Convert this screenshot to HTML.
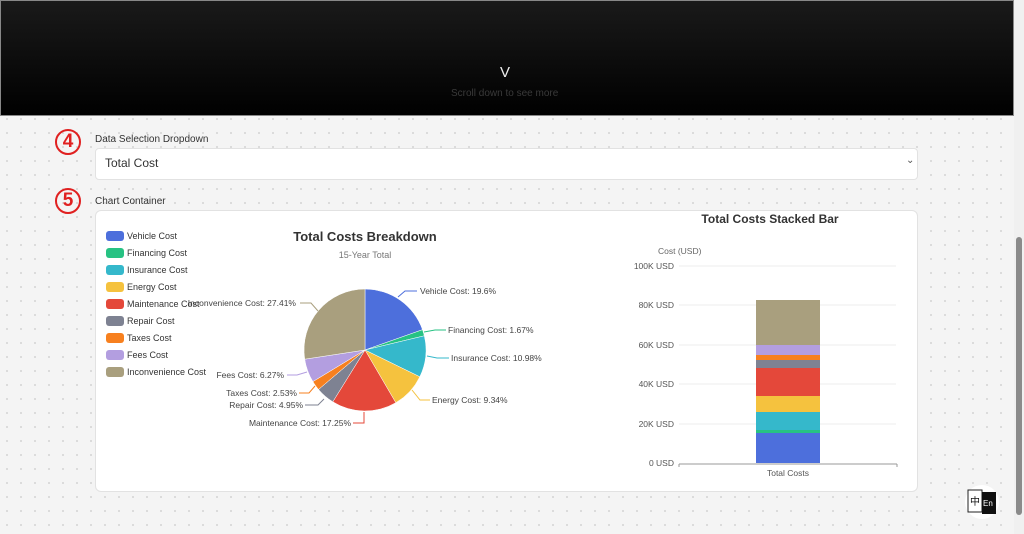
<!DOCTYPE html>
<html><head><meta charset="utf-8"><style>
body{margin:0;width:1024px;height:534px;overflow:hidden;font-family:"Liberation Sans","Noto Sans CJK SC",sans-serif;background:#f4f4f4;background-image:radial-gradient(#d6d6d6 0.8px,transparent 1.2px);background-size:14px 14px;position:relative}
.hdr{position:absolute;left:0;top:0;width:1014px;height:116px;background:linear-gradient(#1a1a1a,#000);box-shadow:0 0 0 1px #888 inset}
.abs{position:absolute}
.num{position:absolute;width:22px;height:22px;border:2px solid #e02020;border-radius:50%;color:#e02020;font-weight:bold;font-size:19px;line-height:22px;text-align:center}
</style></head><body>
<div class="hdr"></div>
<div class="abs" style="left:500px;top:64px;color:#eee;font-size:15px">V</div>
<div class="abs" style="left:451px;top:88px;color:#3a3a3a;font-size:10px">Scroll down to see more</div>
<div class="abs" style="left:1014px;top:0;width:10px;height:534px;background:#f0f0f0"></div>
<div class="abs" style="left:1016px;top:237px;width:6px;height:278px;background:#8a8a8a;border-radius:3px"></div>
<div class="num" style="left:55px;top:129px">4</div>
<div class="abs" style="left:95px;top:134px;font-size:10px;color:#333">Data Selection Dropdown</div>
<div class="abs" style="left:95px;top:148px;width:821px;height:30px;background:#fff;border:1px solid #e2e2e2;border-radius:4px"></div>
<div class="abs" style="left:105px;top:156px;font-size:12px;color:#333">Total Cost</div>
<div class="abs" style="left:906px;top:155px;font-size:10px;color:#555">⌄</div>
<div class="num" style="left:55px;top:188px">5</div>
<div class="abs" style="left:95px;top:196px;font-size:10px;color:#333">Chart Container</div>
<div class="abs" style="left:95px;top:210px;width:821px;height:280px;background:#fff;border:1px solid #e2e2e2;border-radius:6px"></div>
<svg class="abs" style="left:0;top:0" width="1024" height="534" font-family="Liberation Sans, sans-serif">
<g font-size="9" fill="#333">
<rect x="106" y="231" width="18" height="10" rx="3" fill="#4d6fdc"/><text x="127" y="239">Vehicle Cost</text>
<rect x="106" y="248" width="18" height="10" rx="3" fill="#27c283"/><text x="127" y="256">Financing Cost</text>
<rect x="106" y="265" width="18" height="10" rx="3" fill="#35b8cb"/><text x="127" y="273">Insurance Cost</text>
<rect x="106" y="282" width="18" height="10" rx="3" fill="#f5c23e"/><text x="127" y="290">Energy Cost</text>
<rect x="106" y="299" width="18" height="10" rx="3" fill="#e4483a"/><text x="127" y="307">Maintenance Cost</text>
<rect x="106" y="316" width="18" height="10" rx="3" fill="#7e8292"/><text x="127" y="324">Repair Cost</text>
<rect x="106" y="333" width="18" height="10" rx="3" fill="#f7801f"/><text x="127" y="341">Taxes Cost</text>
<rect x="106" y="350" width="18" height="10" rx="3" fill="#b39ee0"/><text x="127" y="358">Fees Cost</text>
<rect x="106" y="367" width="18" height="10" rx="3" fill="#a99f7e"/><text x="127" y="375">Inconvenience Cost</text>
</g>
<text x="365" y="241" font-size="13" font-weight="bold" fill="#333" text-anchor="middle">Total Costs Breakdown</text>
<text x="365" y="258" font-size="9" fill="#777" text-anchor="middle">15-Year Total</text>
<g stroke="#fff" stroke-width="0.5">
<path d="M365,350L365,289A61,61 0 0 1 422.5,329.7Z" fill="#4d6fdc"/>
<path d="M365,350L422.5,329.7A61,61 0 0 1 424.3,335.8Z" fill="#27c283"/>
<path d="M365,350L424.3,335.8A61,61 0 0 1 419.8,376.8Z" fill="#35b8cb"/>
<path d="M365,350L419.8,376.8A61,61 0 0 1 395.8,402.7Z" fill="#f5c23e"/>
<path d="M365,350L395.8,402.7A61,61 0 0 1 332.8,401.8Z" fill="#e4483a"/>
<path d="M365,350L332.8,401.8A61,61 0 0 1 318.5,389.5Z" fill="#7e8292"/>
<path d="M365,350L318.5,389.5A61,61 0 0 1 312.9,381.6Z" fill="#f7801f"/>
<path d="M365,350L312.9,381.6A61,61 0 0 1 304.7,359.2Z" fill="#b39ee0"/>
<path d="M365,350L304.7,359.2A61,61 0 0 1 365,289Z" fill="#a99f7e"/>
</g>
<g fill="none" stroke-width="1">
<polyline points="398,297 405,291 417,291" stroke="#4d6fdc"/>
<polyline points="424,332 435,330 446,330" stroke="#27c283"/>
<polyline points="427,356 437,358 449,358" stroke="#35b8cb"/>
<polyline points="412,390 420,400 430,400" stroke="#f5c23e"/>
<polyline points="364,412 364,423 353,423" stroke="#e4483a"/>
<polyline points="324,399 318,405 305,405" stroke="#7e8292"/>
<polyline points="315,386 309,393 299,393" stroke="#f7801f"/>
<polyline points="307,372 297,375 287,375" stroke="#b39ee0"/>
<polyline points="318,311 311,303 300,303" stroke="#a99f7e"/>
</g>
<g font-size="8.5" fill="#444">
<text x="420" y="294">Vehicle Cost: 19.6%</text>
<text x="448" y="333">Financing Cost: 1.67%</text>
<text x="451" y="361">Insurance Cost: 10.98%</text>
<text x="432" y="403">Energy Cost: 9.34%</text>
<text x="351" y="426" text-anchor="end">Maintenance Cost: 17.25%</text>
<text x="303" y="408" text-anchor="end">Repair Cost: 4.95%</text>
<text x="297" y="396" text-anchor="end">Taxes Cost: 2.53%</text>
<text x="284" y="378" text-anchor="end">Fees Cost: 6.27%</text>
<text x="296" y="306" text-anchor="end">Inconvenience Cost: 27.41%</text>
</g>
<text x="770" y="223" font-size="12" font-weight="bold" fill="#333" text-anchor="middle">Total Costs Stacked Bar</text>
<text x="658" y="254" font-size="8.5" fill="#666">Cost (USD)</text>
<g stroke="#eee" stroke-width="1">
<line x1="679" y1="266" x2="896" y2="266"/><line x1="679" y1="305" x2="896" y2="305"/>
<line x1="679" y1="345" x2="896" y2="345"/><line x1="679" y1="384" x2="896" y2="384"/>
<line x1="679" y1="424" x2="896" y2="424"/>
</g>
<g font-size="8.5" fill="#555" text-anchor="end">
<text x="674" y="269">100K USD</text><text x="674" y="308">80K USD</text>
<text x="674" y="348">60K USD</text><text x="674" y="387">40K USD</text>
<text x="674" y="427">20K USD</text><text x="674" y="466">0  USD</text>
</g>
<rect x="756" y="433" width="64" height="30" fill="#4d6fdc"/>
<rect x="756" y="430" width="64" height="3" fill="#27c283"/>
<rect x="756" y="412" width="64" height="18" fill="#35b8cb"/>
<rect x="756" y="396" width="64" height="16" fill="#f5c23e"/>
<rect x="756" y="368" width="64" height="28" fill="#e4483a"/>
<rect x="756" y="360" width="64" height="8" fill="#7e8292"/>
<rect x="756" y="355" width="64" height="5" fill="#f7801f"/>
<rect x="756" y="345" width="64" height="10" fill="#b39ee0"/>
<rect x="756" y="300" width="64" height="45" fill="#a99f7e"/>
<line x1="679" y1="464" x2="897" y2="464" stroke="#999"/>
<line x1="679" y1="464" x2="679" y2="467" stroke="#999"/><line x1="897" y1="464" x2="897" y2="467" stroke="#999"/>
<text x="788" y="476" font-size="8.5" fill="#555" text-anchor="middle">Total Costs</text>
<circle cx="982" cy="502" r="17" fill="#fff"/>
<rect x="968" y="490" width="14" height="22" fill="#fff" stroke="#222" stroke-width="1"/>
<rect x="982" y="492" width="14" height="22" fill="#111"/>
<text x="970" y="505" font-size="10" fill="#111" font-family="Noto Sans CJK SC, sans-serif">中</text>
<text x="983" y="506" font-size="8" fill="#fff">En</text>
</svg>
</body></html>
